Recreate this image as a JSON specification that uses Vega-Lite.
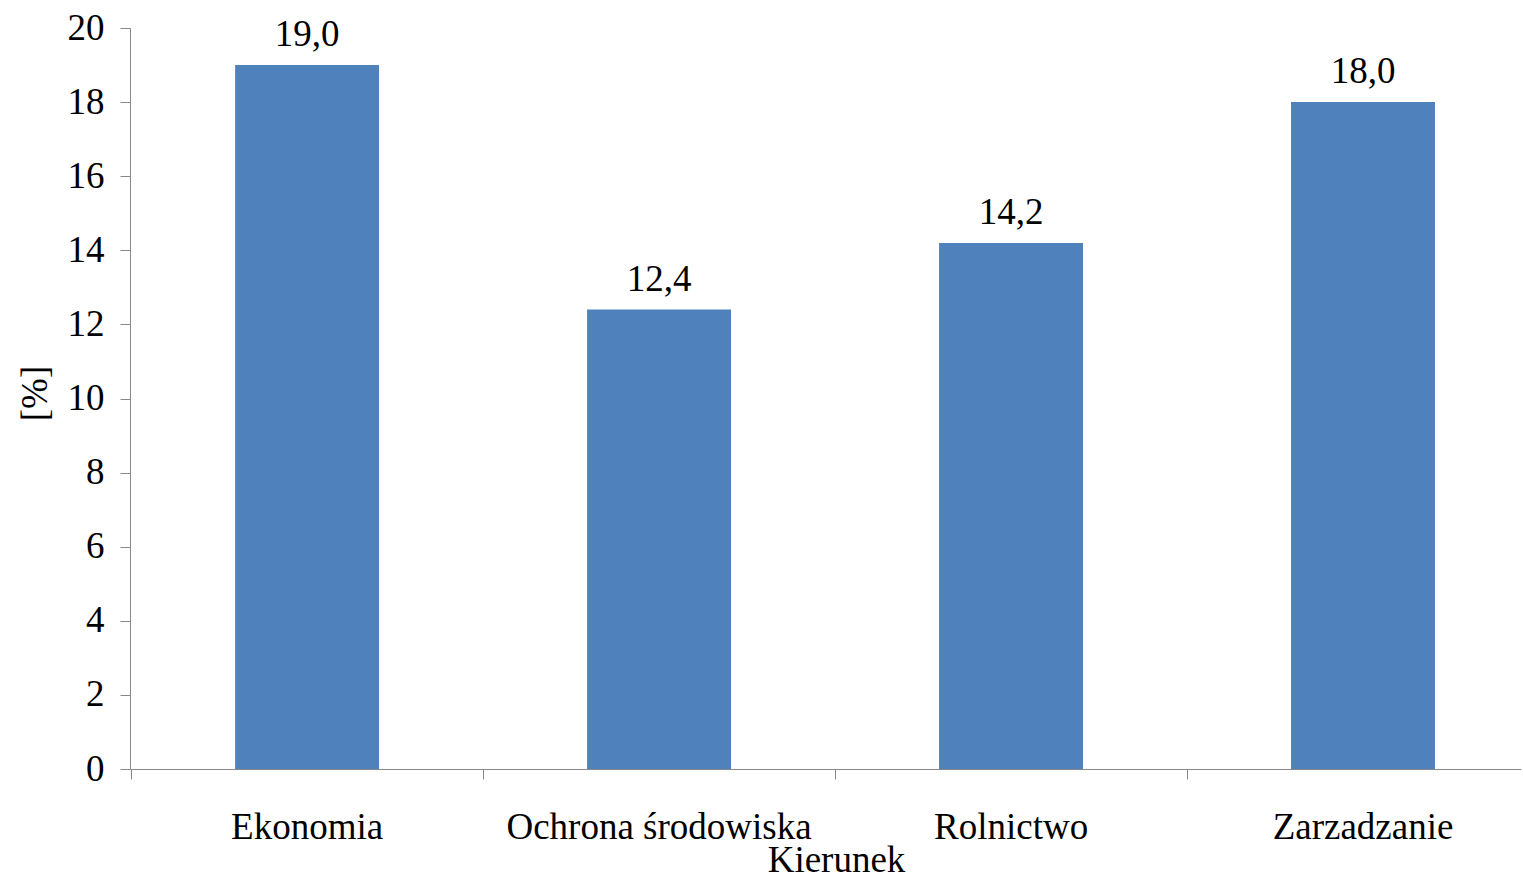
{
  "$schema": "https://vega.github.io/schema/vega-lite/v6.json",
  "width": 1391,
  "height": 741,
  "autosize": "none",
  "padding": {"left": 130, "top": 28, "right": 2, "bottom": 110},
  "background": "white",
  "config": {
    "view": {"stroke": null},
    "font": "Liberation Serif",
    "locale": {"number": {"decimal": ",", "thousands": " ", "grouping": [3], "currency": ["", " zł"]}}
  },
  "data": {
    "values": [
      {"kierunek": "Ekonomia", "value": 19.0},
      {"kierunek": "Ochrona środowiska", "value": 12.4},
      {"kierunek": "Rolnictwo", "value": 14.2},
      {"kierunek": "Zarzadzanie", "value": 18.0}
    ]
  },
  "encoding": {
    "x": {
      "field": "kierunek",
      "type": "nominal",
      "sort": null,
      "scale": {"paddingInner": 0.591, "paddingOuter": 0.2715, "align": 0.55},
      "axis": {
        "title": "Kierunek",
        "labelAngle": 0,
        "labelLimit": 0,
        "labelFont": "Liberation Serif",
        "labelFontSize": 37,
        "labelColor": "black",
        "labelBaseline": "alphabetic",
        "labelPadding": 59,
        "tickSize": 10,
        "bandPosition": -0.722,
        "domainColor": "#898989",
        "tickColor": "#898989",
        "titleFont": "Liberation Serif",
        "titleFontSize": 37,
        "titleFontWeight": "normal",
        "titleColor": "black",
        "titleX": 706,
        "titleY": 102,
        "titleBaseline": "alphabetic"
      }
    },
    "y": {
      "field": "value",
      "type": "quantitative",
      "scale": {"domain": [0, 20], "nice": false},
      "axis": {
        "title": "[%]",
        "values": [0, 2, 4, 6, 8, 10, 12, 14, 16, 18, 20],
        "grid": false,
        "format": "d",
        "labelFont": "Liberation Serif",
        "labelFontSize": 37,
        "labelColor": "black",
        "labelPadding": 16,
        "tickSize": 10,
        "domainColor": "#898989",
        "tickColor": "#898989",
        "titleFont": "Liberation Serif",
        "titleFontSize": 37,
        "titleFontWeight": "normal",
        "titleColor": "black",
        "titleX": -95,
        "titleY": 365,
        "titleAlign": "center",
        "titleBaseline": "middle",
        "titleAngle": -90
      }
    }
  },
  "layer": [
    {"mark": {"type": "bar", "color": "#4F81BD"}},
    {
      "mark": {"type": "text", "baseline": "alphabetic", "dy": -19, "fontSize": 37, "font": "Liberation Serif", "color": "black"},
      "encoding": {"text": {"field": "value", "type": "quantitative", "format": ".1f"}}
    }
  ]
}
